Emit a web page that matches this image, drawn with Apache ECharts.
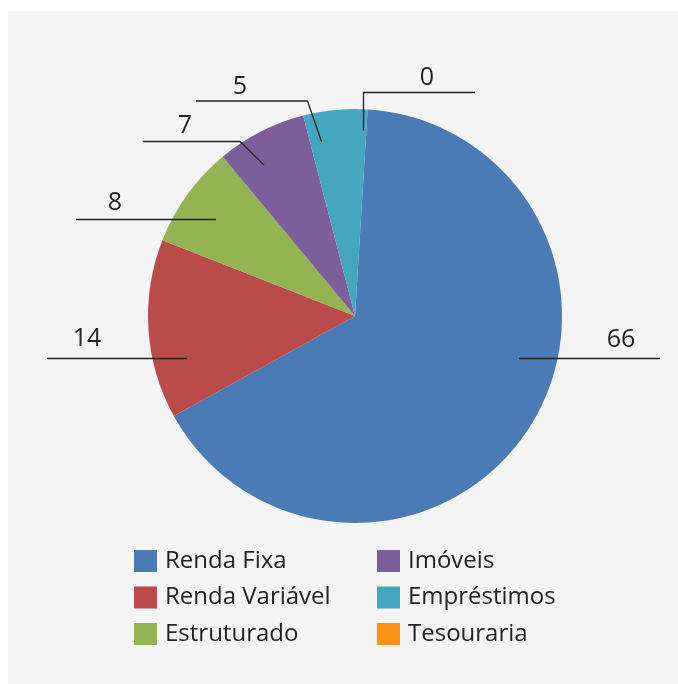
<!DOCTYPE html>
<html>
<head>
<meta charset="utf-8">
<script src="https://cdn.jsdelivr.net/npm/echarts@6/dist/echarts.min.js"></script>
<style>
  html, body { margin: 0; padding: 0; background: #ffffff; }
  #chart { width: 678px; height: 684px; }
</style>
</head>
<body>
<div id="chart"></div>
<script>
// ---- Data ----
const categories = ['Renda Fixa', 'Renda Variável', 'Estruturado', 'Imóveis', 'Empréstimos', 'Tesouraria'];
const values = [66, 14, 8, 7, 5, 0];
const colors = ['#4a7bb4', '#b94c4a', '#94b352', '#7b5e9b', '#45a6bf', '#fb9414'];
const legendCol1 = ['Renda Fixa', 'Renda Variável', 'Estruturado'];
const legendCol2 = ['Imóveis', 'Empréstimos', 'Tesouraria'];

// ---- Label placement (annotation styling: text centre and leader line points) ----
const labelLayoutSpec = [
  { text: [621, 340], line: [[660, 358.5], [519, 358.5]] },
  { text: [87, 339],  line: [[47, 358.5], [187, 358.5]] },
  { text: [115, 203], line: [[76, 219.5], [216, 219.5]] },
  { text: [185, 126], line: [[143, 141.5], [240, 141.5], [264, 165]] },
  { text: [240, 87],  line: [[196, 101], [307.5, 101], [321.5, 141.5]] },
  { text: [427, 78],  line: [[475, 92.5], [363.5, 92.5], [363.5, 130.5]] }
];

const FONT = 'Open Sans';
const chart = echarts.init(document.getElementById('chart'), null, { renderer: 'canvas' });

const legendBase = {
  orient: 'vertical',
  top: 544,
  itemWidth: 23,
  itemHeight: 22,
  itemGap: 12.5,
  icon: 'rect',
  selectedMode: false,
  textStyle: { fontSize: 24, color: '#222', fontFamily: FONT, lineHeight: 22, padding: [0, 0, 0, 3] }
};

const pieGeom = { center: [355, 316], radius: 207, startAngle: 86.5, clockwise: true };

const option = {
  backgroundColor: '#ffffff',
  color: colors,
  animation: false,
  graphic: [{
    type: 'rect',
    z: -100,
    shape: { x: 8, y: 11, width: 670, height: 673 },
    style: { fill: '#f4f4f4' },
    silent: true
  }],
  legend: [
    Object.assign({}, legendBase, { left: 129, data: legendCol1 }),
    Object.assign({}, legendBase, { left: 372, data: legendCol2 })
  ],
  series: [
    Object.assign({
      type: 'pie',
      z: 2,
      avoidLabelOverlap: false,
      itemStyle: { borderWidth: 0 },
      emphasis: { disabled: true },
      label: { show: false },
      labelLine: { show: false },
      data: categories.map((c, i) => ({ name: c, value: values[i] }))
    }, pieGeom),
    // overlay series: transparent sectors carrying the value labels and leader lines
    Object.assign({
      type: 'pie',
      z: 5,
      silent: true,
      avoidLabelOverlap: false,
      minShowLabelAngle: 0,
      itemStyle: { color: 'rgba(0,0,0,0)', borderWidth: 0 },
      emphasis: { disabled: true },
      label: {
        show: true,
        position: 'outside',
        formatter: '{c}',
        fontSize: 25,
        color: '#222',
        fontFamily: FONT
      },
      labelLine: {
        show: true,
        length: 10,
        length2: 10,
        lineStyle: { color: '#222', width: 1.3 }
      },
      labelLayout: function (params) {
        const s = labelLayoutSpec[params.dataIndex];
        return {
          x: s.text[0],
          y: s.text[1],
          align: 'center',
          verticalAlign: 'middle',
          labelLinePoints: s.line
        };
      },
      data: values.map((v) => ({ name: '', value: v }))
    }, pieGeom)
  ]
};

chart.setOption(option);
</script>
</body>
</html>
